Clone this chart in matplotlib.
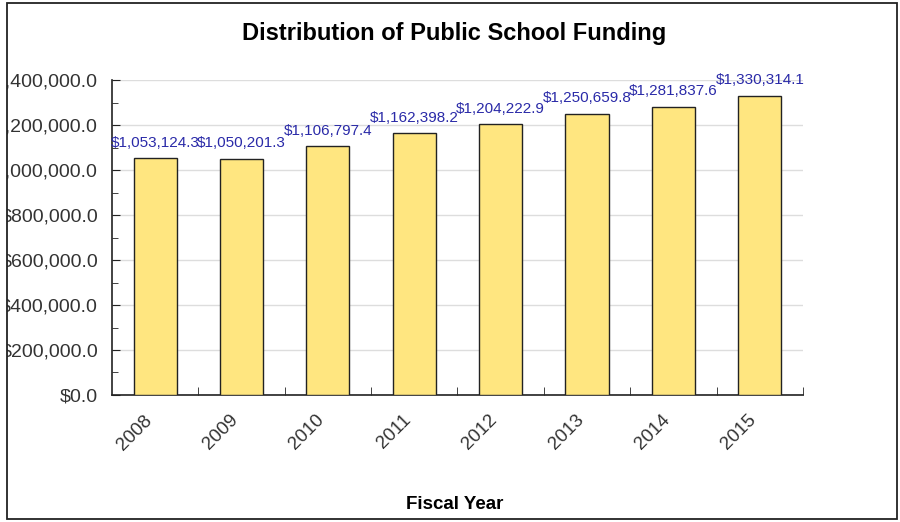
import matplotlib.pyplot as plt
from matplotlib.patches import Rectangle
from matplotlib.ticker import FuncFormatter, MultipleLocator
from matplotlib.transforms import ScaledTranslation

plt.rcParams['font.family'] = ['Liberation Sans', 'DejaVu Sans']

years = ['2008', '2009', '2010', '2011', '2012', '2013', '2014', '2015']
funding = [1053124.3, 1050201.3, 1106797.4, 1162398.2,
           1204222.9, 1250659.8, 1281837.6, 1330314.1]

fig = plt.figure(figsize=(9, 5.22), dpi=100)
ax = fig.add_axes([0.1244, 0.2433, 0.7678, 0.6034])

x = list(range(len(years)))
ax.bar(x, funding, width=0.5, color='#ffe680', edgecolor='#222222',
       linewidth=1.0, zorder=3)

for xi, v in zip(x, funding):
    ax.annotate('${:,.1f}'.format(v), (xi, v), xytext=(0, 6),
                textcoords='offset points', ha='center', va='bottom',
                color='#2a2aa8', fontsize=11, zorder=4)

ax.set_xlim(-0.5, len(years) - 0.5)
ax.set_ylim(0, 1400000)
ax.yaxis.set_major_locator(MultipleLocator(200000))
ax.yaxis.set_minor_locator(MultipleLocator(100000))
ax.yaxis.set_major_formatter(FuncFormatter(lambda v, p: '${:,.1f}'.format(v)))
ax.grid(axis='y', color='#dddddd', linewidth=1.0, zorder=0)

ax.set_xticks(x)
ax.set_xticklabels(years, rotation=45, ha='right', rotation_mode='anchor',
                   fontsize=13.5, color='#333333')
ax.set_xticks([i + 0.5 for i in x], minor=True)
ax.tick_params(axis='x', which='major', length=0, pad=12)
ax.tick_params(axis='x', which='minor', direction='in', length=6,
               color='#222222')
ax.tick_params(axis='y', which='major', direction='in', length=6,
               labelsize=14, labelcolor='#333333', pad=10, color='#222222')
ax.tick_params(axis='y', which='minor', direction='in', length=4,
               color='#222222')
shift = ScaledTranslation(-12 / 100, 0, fig.dpi_scale_trans)
for lab in ax.get_xticklabels():
    lab.set_transform(lab.get_transform() + shift)

for side in ('top', 'right'):
    ax.spines[side].set_visible(False)
for side in ('left', 'bottom'):
    ax.spines[side].set_color('#222222')
    ax.spines[side].set_linewidth(1.2)

fig.text(0.505, 0.935, 'Distribution of Public School Funding',
         ha='center', va='center', fontsize=17, fontweight='bold')
fig.text(0.505, 0.034, 'Fiscal Year', ha='center', va='center',
         fontsize=13.5, fontweight='bold')

# white margin outside the frame, then the frame itself
W, H = 900, 522
mask = Rectangle((0, 0), 7 / W, 1, transform=fig.transFigure,
                 facecolor='white', edgecolor='none', zorder=10)
fig.add_artist(mask)
frame = Rectangle((7 / W, 3 / H), 890 / W, 516 / H, transform=fig.transFigure,
                  facecolor='none', edgecolor='#222222', linewidth=1.3,
                  zorder=11)
fig.add_artist(frame)

fig.savefig('out.png', dpi=100)
